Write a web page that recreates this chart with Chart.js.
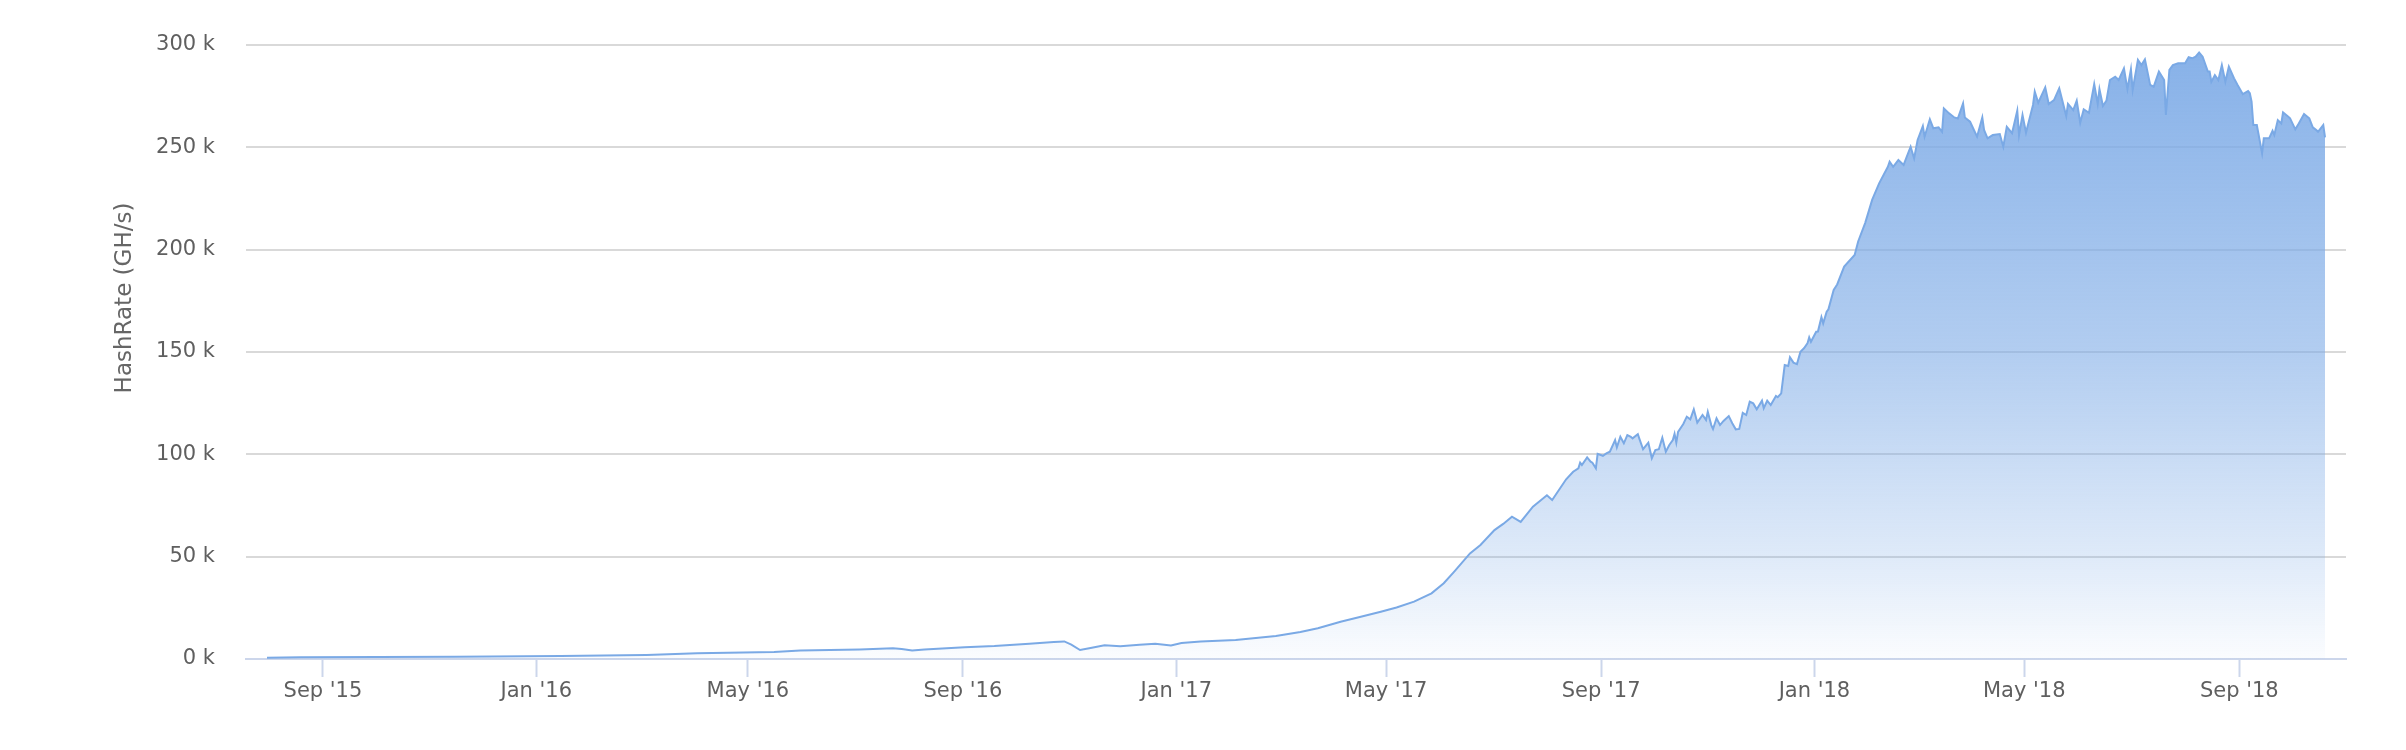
<!DOCTYPE html>
<html lang="en">
<head>
  <meta charset="UTF-8" />
  <title>HashRate</title>
  <script src="https://cdn.jsdelivr.net/npm/chart.js"></script>
  <style>
    body {
      margin: 0;
      background: #ffffff;
    }
    #wrap {
      width: 2406px;
      height: 750px;
    }
  </style>
</head>
<body>
  <div id="wrap">
    <canvas id="hashChart" width="2406" height="750"></canvas>
  </div>

  <script>
    // network hashrate, in thousands of GH/s
    const dates = [
      '2015-07-31', '2015-08-19', '2015-11-16', '2016-01-15', '2016-03-04', '2016-04-02',
      '2016-05-16', '2016-05-31', '2016-07-04', '2016-07-23', '2016-07-28', '2016-08-03',
      '2016-08-10', '2016-09-02', '2016-09-19', '2016-10-09', '2016-10-23', '2016-10-29',
      '2016-11-02', '2016-11-07', '2016-11-13', '2016-11-21', '2016-11-30', '2016-12-11',
      '2016-12-20', '2016-12-29', '2017-01-04', '2017-01-15', '2017-02-04', '2017-02-27',
      '2017-03-13', '2017-03-23', '2017-04-05', '2017-04-16', '2017-04-28', '2017-05-07',
      '2017-05-17', '2017-05-27', '2017-06-03', '2017-06-09', '2017-06-18', '2017-06-24',
      '2017-07-02', '2017-07-07', '2017-07-12', '2017-07-17', '2017-07-24', '2017-08-01',
      '2017-08-04', '2017-08-12', '2017-08-16', '2017-08-19', '2017-08-20', '2017-08-21',
      '2017-08-24', '2017-08-26', '2017-08-27', '2017-08-29', '2017-08-30', '2017-09-02',
      '2017-09-04', '2017-09-06', '2017-09-09', '2017-09-10', '2017-09-12', '2017-09-14',
      '2017-09-16', '2017-09-18', '2017-09-19', '2017-09-22', '2017-09-23', '2017-09-25',
      '2017-09-28', '2017-09-30', '2017-10-02', '2017-10-04', '2017-10-06', '2017-10-08',
      '2017-10-10', '2017-10-12', '2017-10-13', '2017-10-14', '2017-10-15', '2017-10-18',
      '2017-10-20', '2017-10-22', '2017-10-24', '2017-10-26', '2017-10-29', '2017-10-31',
      '2017-11-01', '2017-11-03', '2017-11-04', '2017-11-06', '2017-11-08', '2017-11-10',
      '2017-11-13', '2017-11-15', '2017-11-17', '2017-11-19', '2017-11-21', '2017-11-23',
      '2017-11-25', '2017-11-27', '2017-11-29', '2017-12-02', '2017-12-03', '2017-12-05',
      '2017-12-07', '2017-12-10', '2017-12-11', '2017-12-13', '2017-12-15', '2017-12-17',
      '2017-12-18', '2017-12-20', '2017-12-22', '2017-12-24', '2017-12-26', '2017-12-28',
      '2017-12-29', '2017-12-30', '2018-01-02', '2018-01-03', '2018-01-05', '2018-01-06',
      '2018-01-08', '2018-01-09', '2018-01-12', '2018-01-14', '2018-01-18', '2018-01-24',
      '2018-01-26', '2018-01-30', '2018-02-03', '2018-02-07', '2018-02-12', '2018-02-13',
      '2018-02-15', '2018-02-18', '2018-02-21', '2018-02-25', '2018-02-27', '2018-03-01',
      '2018-03-04', '2018-03-05', '2018-03-08', '2018-03-10', '2018-03-13', '2018-03-15',
      '2018-03-16', '2018-03-19', '2018-03-22', '2018-03-24', '2018-03-27', '2018-03-28',
      '2018-03-31', '2018-04-04', '2018-04-07', '2018-04-08', '2018-04-10', '2018-04-13',
      '2018-04-17', '2018-04-19', '2018-04-21', '2018-04-24', '2018-04-27', '2018-04-28',
      '2018-04-30', '2018-05-02', '2018-05-06', '2018-05-07', '2018-05-09', '2018-05-13',
      '2018-05-15', '2018-05-18', '2018-05-21', '2018-05-25', '2018-05-26', '2018-05-29',
      '2018-05-31', '2018-06-02', '2018-06-04', '2018-06-07', '2018-06-10', '2018-06-12',
      '2018-06-13', '2018-06-15', '2018-06-17', '2018-06-19', '2018-06-22', '2018-06-24',
      '2018-06-27', '2018-06-29', '2018-07-01', '2018-07-02', '2018-07-05', '2018-07-07',
      '2018-07-09', '2018-07-12', '2018-07-14', '2018-07-17', '2018-07-20', '2018-07-21',
      '2018-07-23', '2018-07-25', '2018-07-28', '2018-08-01', '2018-08-03', '2018-08-05',
      '2018-08-07', '2018-08-09', '2018-08-11', '2018-08-14', '2018-08-15', '2018-08-16',
      '2018-08-18', '2018-08-20', '2018-08-22', '2018-08-24', '2018-08-26', '2018-08-29',
      '2018-08-31', '2018-09-03', '2018-09-06', '2018-09-07', '2018-09-08', '2018-09-09',
      '2018-09-11', '2018-09-14', '2018-09-15', '2018-09-18', '2018-09-20', '2018-09-21',
      '2018-09-23', '2018-09-25', '2018-09-26', '2018-09-29', '2018-09-30', '2018-10-03',
      '2018-10-05', '2018-10-08', '2018-10-11', '2018-10-13', '2018-10-15', '2018-10-16',
      '2018-10-19', '2018-10-20'
    ];

    const hashrateK = [
      0.6, 0.8, 1.1, 1.5, 2.0, 2.8,
      3.4, 4.1, 4.6, 5.2, 4.9, 4.2,
      4.6, 5.7, 6.3, 7.4, 8.3, 8.6,
      7.0, 4.4, 5.4, 6.7, 6.2, 7.0,
      7.5, 6.6, 7.8, 8.6, 9.3, 11.2,
      13.2, 15.0, 18.2, 20.5, 23.1, 25.2,
      28.0, 32.1, 37.0, 42.7, 51.6, 55.7,
      63.0, 66.0, 69.5, 67.0, 74.4, 80.0,
      77.7, 87.8, 91.5, 93.2, 95.9, 94.8,
      98.5, 96.4, 95.9, 93.2, 100.2, 99.3,
      100.5, 101.3, 107.0, 103.4, 108.6, 105.4,
      109.4, 108.6, 107.8, 109.8, 107.3, 102.5,
      105.7, 98.1, 102.1, 102.5, 108.1, 101.3,
      104.6, 107.0, 110.0, 105.7, 111.0, 114.8,
      118.4, 117.1, 122.0, 115.5, 119.2, 116.8,
      120.8, 114.3, 112.4, 117.6, 114.3, 116.3,
      118.7, 115.2, 112.2, 112.4, 120.3, 119.2,
      125.7, 124.9, 122.0, 126.2, 122.5, 126.2,
      124.1, 128.5, 127.9, 129.8, 143.6, 143.2,
      147.4, 144.8, 144.1, 150.1, 151.8, 154.2,
      157.2, 155.0, 159.9, 160.0, 167.0, 164.0,
      169.7, 170.9, 180.3, 183.0, 191.7, 197.4,
      204.0, 213.0, 224.3, 232.4, 240.5, 243.0,
      240.5, 243.8, 241.4, 250.3, 244.6, 253.6,
      260.4, 255.2, 263.7, 259.3, 259.8, 257.6,
      269.0, 266.6, 264.6, 264.1, 271.5, 264.6,
      262.5, 255.2, 264.6, 258.5, 254.4, 256.0,
      256.5, 250.3, 260.0, 256.9, 267.9, 256.0,
      265.8, 257.2, 270.7, 277.2, 271.8, 279.3,
      271.2, 273.1, 278.8, 265.3, 271.2, 268.2,
      272.8, 262.0, 268.6, 266.9, 280.9, 271.2,
      278.4, 270.2, 272.8, 282.9, 284.5, 282.9,
      288.6, 278.4, 288.1, 278.0, 292.7, 290.2,
      293.0, 280.5, 279.6, 287.0, 282.9, 265.8,
      287.8, 290.2, 291.1, 291.1, 294.0, 293.5,
      294.3, 296.3, 294.3, 287.0, 287.0, 282.0,
      285.3, 282.9, 290.2, 282.0, 289.4, 283.7,
      280.5, 276.0, 277.5, 276.4, 272.3, 260.9,
      260.9, 247.1, 254.4, 254.4, 258.1, 256.0,
      263.3, 261.7, 267.1, 265.0, 264.2, 258.8,
      261.7, 266.3, 264.2, 259.8, 258.5, 257.6,
      260.9, 254.9
    ];

    const tickDates = [
      '2015-09-01', '2016-01-01', '2016-05-01', '2016-09-01', '2017-01-01',
      '2017-05-01', '2017-09-01', '2018-01-01', '2018-05-01', '2018-09-01'
    ];
    const tickLabels = [
      "Sep '15", "Jan '16", "May '16", "Sep '16", "Jan '17",
      "May '17", "Sep '17", "Jan '18", "May '18", "Sep '18"
    ];

    const axisStart = '2015-07-19';
    const axisEnd = '2018-11-01';

    Chart.defaults.font.family = "'DejaVu Sans', sans-serif";

    // rotated axis title, sits a bit above the middle like in the reference
    const yTitle = {
      id: 'yTitle',
      afterDraw(chart) {
        const ctx = chart.ctx;
        ctx.save();
        ctx.translate(125, 298);
        ctx.rotate(-Math.PI / 2);
        ctx.font = "23px 'DejaVu Sans', sans-serif";
        ctx.fillStyle = '#666666';
        ctx.textAlign = 'center';
        ctx.textBaseline = 'middle';
        ctx.fillText('HashRate (GH/s)', 0, 0);
        ctx.restore();
      }
    };

    new Chart(document.getElementById('hashChart').getContext('2d'), {
      type: 'line',
      data: {
        datasets: [{
          data: dates.map((d, i) => ({ x: Date.parse(d), y: hashrateK[i] })),
          borderColor: '#7aa9e5',
          borderWidth: 2,
          pointRadius: 0,
          tension: 0,
          fill: 'origin',
          backgroundColor: (ctx) => {
            const area = ctx.chart.chartArea;
            if (!area) return 'rgba(124,170,230,0.5)';
            const g = ctx.chart.ctx.createLinearGradient(0, area.top, 0, area.bottom);
            g.addColorStop(0, 'rgba(124,170,230,0.92)');
            g.addColorStop(0.5, 'rgba(124,170,230,0.59)');
            g.addColorStop(0.83, 'rgba(124,170,230,0.25)');
            g.addColorStop(1, 'rgba(124,170,230,0.03)');
            return g;
          }
        }]
      },
      options: {
        responsive: false,
        animation: false,
        devicePixelRatio: 1,
        layout: { padding: { top: 45, right: 60, bottom: 0, left: 0 } },
        plugins: {
          legend: { display: false },
          tooltip: { enabled: false }
        },
        scales: {
          x: {
            type: 'linear',
            min: Date.parse(axisStart),
            max: Date.parse(axisEnd),
            afterBuildTicks: (scale) => {
              scale.ticks = tickDates.map(d => ({ value: Date.parse(d) }));
            },
            afterFit: (scale) => { scale.height = 91; },
            grid: {
              drawOnChartArea: false,
              drawTicks: true,
              tickLength: 18,
              tickWidth: 2,
              tickColor: '#ccd6eb'
            },
            border: { display: true, color: '#ccd6eb', width: 2 },
            ticks: {
              autoSkip: false,
              maxRotation: 0,
              padding: 2,
              color: '#5f5f5f',
              font: { size: 21 },
              callback: (v, i) => tickLabels[i]
            }
          },
          y: {
            min: 0,
            max: 300,
            afterFit: (scale) => { scale.width = 246; },
            grid: {
              color: '#d9d9d9',
              lineWidth: 2,
              drawTicks: false
            },
            border: { display: false },
            ticks: {
              stepSize: 50,
              padding: 31,
              color: '#5f5f5f',
              font: { size: 21 },
              callback: (v) => v + ' k'
            }
          }
        }
      },
      plugins: [yTitle]
    });
  </script>
</body>
</html>
